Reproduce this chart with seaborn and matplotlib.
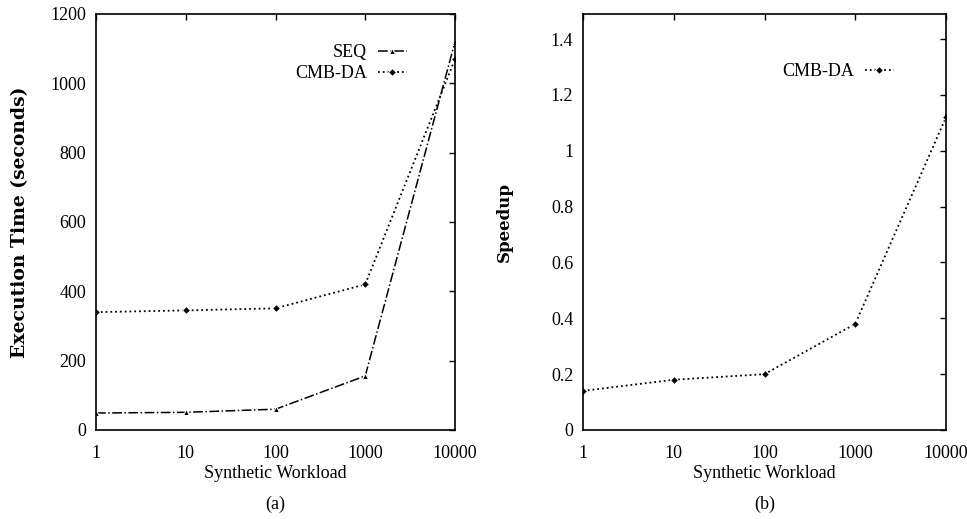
import matplotlib
matplotlib.use("Agg")
import matplotlib.pyplot as plt
import seaborn as sns
import pandas as pd
from matplotlib.ticker import FixedLocator, FixedFormatter, NullLocator

workload = [1, 10, 100, 1000, 10000]
workload_labels = ["1", "10", "100", "1000", "10000"]
seq_time = [49, 51, 60, 156, 1120]
cmb_time = [340, 345, 351, 420, 1070]
speedup = [0.14, 0.18, 0.20, 0.38, 1.12]

left_yticks = [0, 200, 400, 600, 800, 1000, 1200]
right_yticks = [0, 0.2, 0.4, 0.6, 0.8, 1, 1.2, 1.4]
right_ytick_labels = ["0", "0.2", "0.4", "0.6", "0.8", "1", "1.2", "1.4"]

sns.set_theme(style="white")
plt.rcParams["font.family"] = ["Liberation Serif", "DejaVu Serif"]
plt.rcParams["font.size"] = 13
plt.rcParams["text.color"] = "black"
plt.rcParams["axes.labelcolor"] = "black"

FS = 13
fig = plt.figure(figsize=(9.67, 5.19), dpi=100)
W, H = 967, 519
def box(x0, x1, y0, y1):
    return [x0 / W, 1 - y1 / H, (x1 - x0) / W, (y1 - y0) / H]

ax1 = fig.add_axes(box(96, 455, 14, 430))
ax2 = fig.add_axes(box(583, 946, 14, 430))

df1 = pd.DataFrame({"w": workload, "seq": seq_time, "cmb": cmb_time, "sp": speedup})

sns.lineplot(data=df1, x="w", y="seq", ax=ax1, color="black", linestyle="-.",
             marker="^", markersize=5, linewidth=1.1, label="SEQ")
sns.lineplot(data=df1, x="w", y="cmb", ax=ax1, color="black", linestyle=":",
             marker="D", markersize=4.5, linewidth=1.3, label="CMB-DA")
sns.lineplot(data=df1, x="w", y="sp", ax=ax2, color="black", linestyle=":",
             marker="D", markersize=4.5, linewidth=1.3, label="CMB-DA")

for ax in (ax1, ax2):
    ax.set_xscale("log")
    ax.set_xlim(1, 10000)
    ax.xaxis.set_major_locator(FixedLocator(workload))
    ax.xaxis.set_major_formatter(FixedFormatter(workload_labels))
    ax.xaxis.set_minor_locator(NullLocator())
    ax.tick_params(direction="in", length=4, width=1, top=True, right=True,
                   labelsize=FS, colors="black")
    ax.tick_params(axis="x", pad=11)
    ax.tick_params(axis="y", pad=7)
    for s in ax.spines.values():
        s.set_color("black")
        s.set_linewidth(1.2)
    ax.set_xlabel("Synthetic Workload", fontsize=FS, labelpad=2, color="black")

ax1.set_ylim(0, 1200)
ax1.set_yticks(left_yticks)
ax1.set_yticklabels([str(v) for v in left_yticks])
ax1.set_ylabel("Execution Time (seconds)", fontsize=13.5, fontweight="bold",
               family="DejaVu Serif", labelpad=15, color="black")

ax2.set_ylim(0, 1.49)
ax2.set_yticks(right_yticks)
ax2.set_yticklabels(right_ytick_labels)
ax2.set_ylabel("Speedup", fontsize=12, fontweight="bold",
               family="DejaVu Serif", labelpad=27, color="black")

leg_kw = dict(frameon=False, markerfirst=False, handlelength=1.6, handletextpad=0.6,
              labelspacing=0.2, fontsize=FS, borderaxespad=0)
l1 = ax1.legend(loc="upper right", bbox_to_anchor=((414 - 96) / 359, (430 - 37) / 416), **leg_kw)
l2 = ax2.legend(loc="upper right", bbox_to_anchor=((901 - 583) / 363, (430 - 56) / 416), **leg_kw)
for lg in (l1, l2):
    for t in lg.get_texts():
        t.set_color("black")

fig.text((96 + 455) / 2 / W, 1 - 504 / H, "(a)", ha="center", va="center", fontsize=FS)
fig.text((583 + 946) / 2 / W, 1 - 504 / H, "(b)", ha="center", va="center", fontsize=FS)

fig.savefig("out.png", dpi=100)
